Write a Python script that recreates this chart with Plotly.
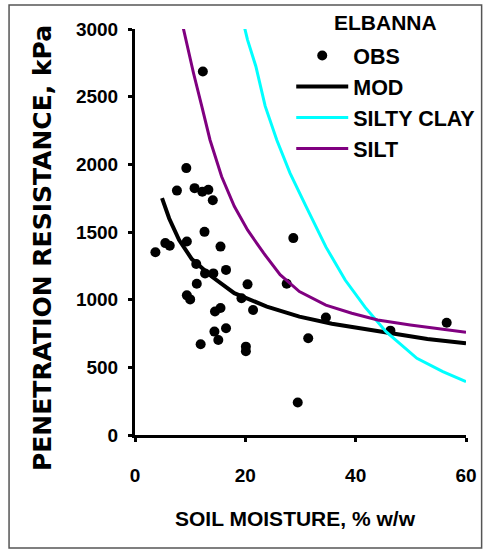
import plotly.graph_objects as go

# Observed penetration resistance (kPa) against soil moisture (% w/w)
obs_moisture = [3.7, 5.5, 6.3, 7.6, 9.3, 9.4, 10.8, 12.2, 13.3, 14.1, 12.3, 12.6,
                15.5, 11.1, 12.7, 14.2, 16.5, 11.2, 9.4, 10.0, 20.4, 19.3, 21.4,
                14.5, 15.5, 16.5, 14.4, 15.1, 11.9, 20.1, 20.1, 27.5, 28.7, 34.6,
                31.4, 29.5, 46.3, 56.5]
obs_resistance = [1350, 1418, 1398, 1806, 1972, 1430, 1824, 1797, 1812, 1734, 2686, 1501,
                  1392, 1264, 1194, 1194, 1220, 1117, 1032, 1002, 1113, 1011, 924,
                  912, 939, 789, 764, 702, 671, 653, 619, 1117, 1455, 868,
                  715, 240, 771, 830]

# Modelled curve
mod_moisture = [4.9, 6.2, 8.0, 10.3, 13.9, 18.0, 23.9, 29.8, 35.7, 41.7, 47.0, 53.0, 60.0]
mod_resistance = [1750, 1600, 1440, 1300, 1171, 1048, 949, 875, 822, 782, 745, 710, 678]

# Silty clay curve
clay_moisture = [19.5, 20.4, 21.9, 23.6, 25.7, 28.1, 31.0, 34.6, 38.1, 41.7, 45.5, 51.1, 55.8, 60.0]
clay_resistance = [3070, 2920, 2725, 2430, 2180, 1935, 1690, 1390, 1145, 945, 764, 567, 468, 394]

# Silt curve
silt_moisture = [8.4, 9.2, 10.6, 12.1, 13.6, 15.7, 18.0, 20.4, 23.3, 26.3, 29.8, 34.6, 39.3, 44.0, 49.9, 60.0]
silt_resistance = [3070, 2920, 2675, 2430, 2180, 1910, 1690, 1515, 1345, 1185, 1060, 960, 900, 850, 813, 759]

x_ticks = [0, 20, 40, 60]
y_ticks = [0, 500, 1000, 1500, 2000, 2500, 3000]

FONT = "Liberation Sans, Arial, sans-serif"

fig = go.Figure()
fig.add_trace(go.Scatter(x=obs_moisture, y=obs_resistance, mode="markers", name="<b>OBS</b>",
                         marker=dict(color="black", size=10)))
fig.add_trace(go.Scatter(x=mod_moisture, y=mod_resistance, mode="lines", name="<b>MOD</b>",
                         line=dict(color="black", width=4)))
fig.add_trace(go.Scatter(x=clay_moisture, y=clay_resistance, mode="lines", name="<b>SILTY CLAY</b>",
                         line=dict(color="#00FFFF", width=3)))
fig.add_trace(go.Scatter(x=silt_moisture, y=silt_resistance, mode="lines", name="<b>SILT</b>",
                         line=dict(color="#800080", width=3)))

tick_font = dict(family=FONT, size=19, color="black")

axis_common = dict(showgrid=False, zeroline=False, ticks="outside", ticklen=4,
                   tickwidth=3, tickcolor="black", showline=True, linewidth=3,
                   linecolor="black", tickfont=tick_font)

fig.update_layout(
    width=492, height=551,
    margin=dict(l=135, r=18, t=29, b=116),
    paper_bgcolor="white", plot_bgcolor="white",
    xaxis=dict(range=[0, 60], tickvals=x_ticks, ticktext=[f"<b>{v}</b>" for v in x_ticks],
               ticklabelstandoff=17, **axis_common),
    yaxis=dict(range=[0, 3000], tickvals=y_ticks, ticktext=[f"<b>{v}</b>" for v in y_ticks],
               ticklabelstandoff=6, **axis_common),
    # second pair of axes only adds the inner half of each tick mark
    xaxis2=dict(range=[0, 60], tickvals=x_ticks, overlaying="x", anchor="y2", side="bottom",
                ticks="inside", ticklen=4, tickwidth=3, tickcolor="black",
                showticklabels=False, showgrid=False, zeroline=False, showline=False),
    yaxis2=dict(range=[0, 3000], tickvals=y_ticks, overlaying="y", anchor="x2", side="left",
                ticks="inside", ticklen=4, tickwidth=3, tickcolor="black",
                showticklabels=False, showgrid=False, zeroline=False, showline=False),
    showlegend=True,
    legend=dict(x=0.472, xanchor="left", y=0.985, yanchor="top",
                bgcolor="rgba(0,0,0,0)", itemwidth=52,
                font=dict(family=FONT, size=21.5, color="black"),
                tracegroupgap=0),
    shapes=[dict(type="rect", xref="paper", yref="paper",
                 x0=-0.3805, x1=1.0472, y0=-0.2783, y1=1.0591,
                 line=dict(color="#555555", width=1.5), fillcolor="rgba(0,0,0,0)")],
    annotations=[
        dict(text="<b>ELBANNA</b>", xref="paper", yref="paper",
             x=0.758, y=1.0172, xanchor="center", yanchor="middle", showarrow=False,
             font=dict(family=FONT, size=21, color="black")),
        dict(text="<b>SOIL MOISTURE, % w/w</b>", xref="paper", yref="paper",
             x=0.4848, y=-0.2046, xanchor="center", yanchor="middle", showarrow=False,
             font=dict(family=FONT, size=21, color="black")),
        dict(text="<b>PENETRATION RESISTANCE, kPa</b>", xref="paper", yref="paper",
             x=-0.281, y=-0.0937, xanchor="center", yanchor="bottom", showarrow=False,
             textangle=-90,
             font=dict(family="DejaVu Sans, sans-serif", size=25, color="black")),
        # blank panel trimming the top of the rotated title
        dict(text=" ", xref="paper", yref="paper", x=-0.2743, y=1.0357,
             xanchor="center", yanchor="middle", showarrow=False,
             width=40, height=14, bgcolor="white", borderpad=0),
    ],
)

fig.write_html("out.html")
